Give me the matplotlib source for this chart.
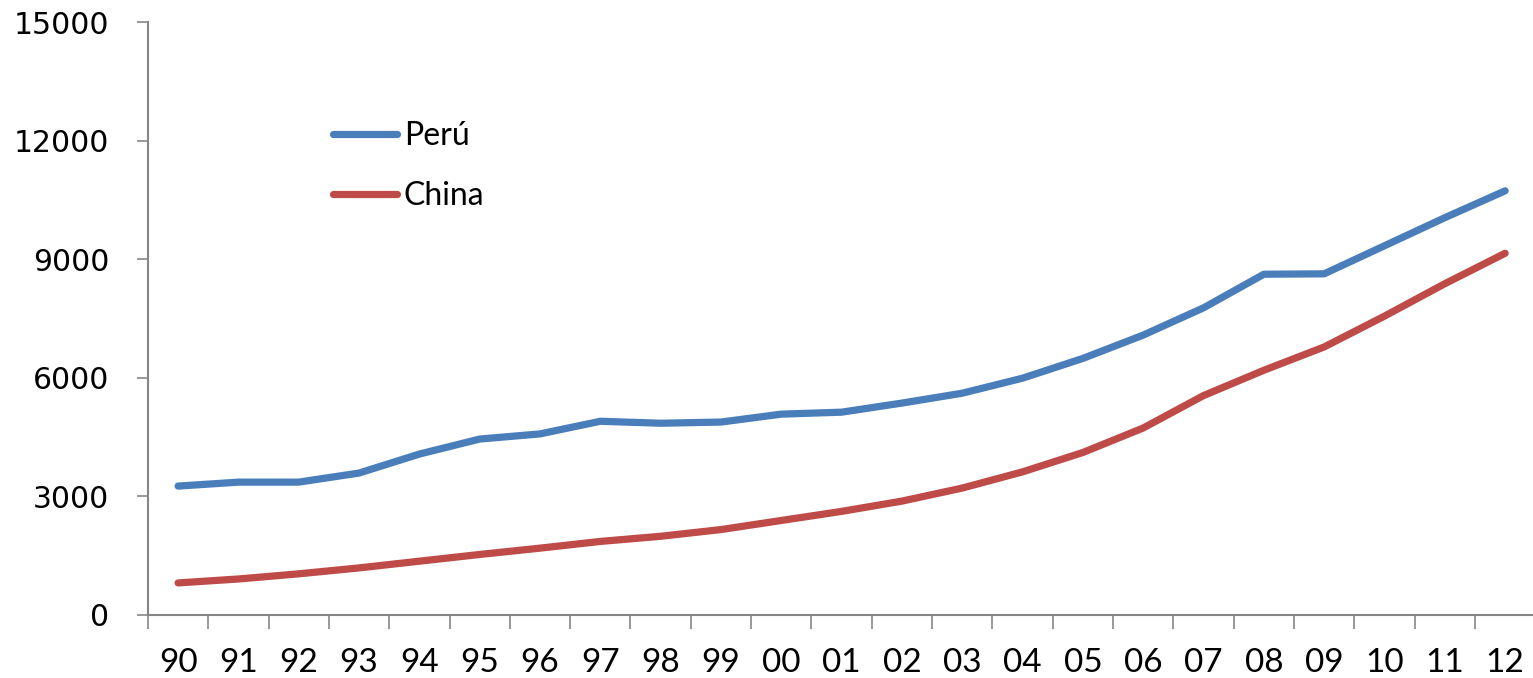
import numpy as np
import matplotlib.pyplot as plt

years = ["90", "91", "92", "93", "94", "95", "96", "97", "98", "99", "00", "01",
         "02", "03", "04", "05", "06", "07", "08", "09", "10", "11", "12"]
peru = [3260, 3360, 3360, 3590, 4070, 4450, 4580, 4900, 4850, 4880, 5080, 5130,
        5360, 5610, 5990, 6490, 7080, 7770, 8620, 8630, 9340, 10050, 10730]
china = [810, 910, 1040, 1190, 1360, 1530, 1690, 1860, 1990, 2160, 2390, 2620,
         2880, 3210, 3620, 4110, 4730, 5550, 6190, 6780, 7560, 8380, 9150]

blue = "#4A7EBB"
red = "#BE4B48"
grey = "#868686"

fig = plt.figure(figsize=(15.33, 6.78), dpi=100)
ax = fig.add_axes([0.0965, 0.093, 0.905, 0.8745])

x = np.arange(len(years))
ax.plot(x, peru, color=blue, lw=5.2, solid_capstyle="round", label="Perú")
ax.plot(x, china, color=red, lw=5.2, solid_capstyle="round", label="China")

ax.set_xlim(-0.5, len(years) - 0.5)
ax.set_ylim(0, 15000)
ax.set_yticks(np.arange(0, 15001, 3000))
ax.tick_params(axis="y", labelsize=21.5, length=8, color=grey, width=1.2, pad=20)

# category ticks sit between the labels
ax.set_xticks(np.arange(-0.5, len(years), 1.0))
ax.set_xticklabels([])
ax.set_xticks(x, minor=True)
ax.set_xticklabels(years, minor=True, fontsize=24, family="Lato")
ax.tick_params(axis="x", which="major", length=10, color=grey, width=1.2)
ax.tick_params(axis="x", which="minor", length=0, pad=24)

for s in ["top", "right"]:
    ax.spines[s].set_visible(False)
for s in ["left", "bottom"]:
    ax.spines[s].set_color(grey)
    ax.spines[s].set_linewidth(1.5)

ax.legend(loc="upper left", bbox_to_anchor=(0.113, 0.882), frameon=False,
          prop={"family": "Lato", "size": 23}, handlelength=2.0,
          handletextpad=0.2, labelspacing=0.95)

plt.savefig("out.png")
